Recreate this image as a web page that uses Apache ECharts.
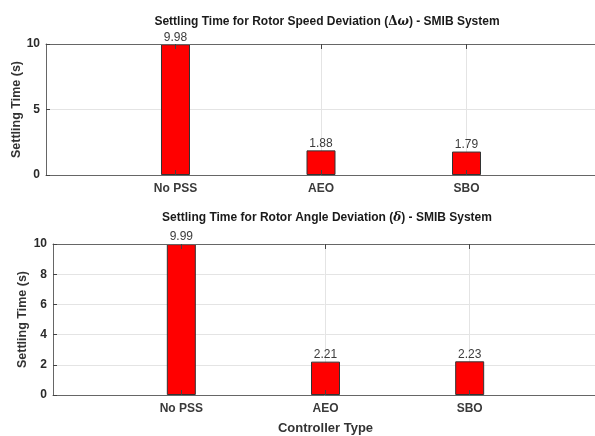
<!DOCTYPE html>
<html>
<head>
<meta charset="utf-8">
<title>Settling Time - SMIB System</title>
<script src="https://cdn.jsdelivr.net/npm/echarts@6/dist/echarts.min.js"></script>
<style>
  html, body { margin: 0; padding: 0; background: #ffffff; }
  #chart { width: 595px; height: 436px; }
</style>
</head>
<body>
<div id="chart"></div>
<script>
// Controller types and their positions on the x scale
const categories = ['No PSS', 'AEO', 'SBO'];
const categoryPos = [1, 2, 3];

// Settling times (s)
const speedSettling = [9.98, 1.88, 1.79];   // rotor speed deviation
const angleSettling = [9.99, 2.21, 2.23];   // rotor angle deviation

// Y tick spacing for each panel
const speedTickStep = 5;
const angleTickStep = 2;

const FONT = "'Liberation Sans', Arial, Helvetica, sans-serif";
const AXIS_COLOR = '#666666';
const TICK_COLOR = '#444444';
const GRID_COLOR = '#e4e4e4';
const X_MIN = 0.11, X_MAX = 3.89;

function toPoints(values) {
  return values.map((v, i) => [categoryPos[i], v]);
}

// Bottom x axis: frame line, inward ticks and category labels, drawn above the bars
function bottomXAxis(gridIndex, extra) {
  return Object.assign({
    gridIndex: gridIndex,
    type: 'value',
    position: 'bottom',
    min: X_MIN,
    max: X_MAX,
    z: 5,
    axisLine: { show: true, onZero: false, lineStyle: { color: AXIS_COLOR, width: 1 } },
    axisTick: { show: true, inside: true, length: 5, customValues: categoryPos,
                lineStyle: { color: TICK_COLOR, width: 1 } },
    axisLabel: { show: true, customValues: categoryPos, margin: 8,
                 formatter: v => categories[Math.round(v) - 1] || '',
                 fontFamily: FONT, fontWeight: 'bold', fontSize: 12, color: '#3a3a3a' },
    splitLine: { show: false }
  }, extra || {});
}

// Top frame edge with inward ticks
function topXAxis(gridIndex) {
  return {
    gridIndex: gridIndex,
    type: 'value',
    position: 'top',
    min: X_MIN,
    max: X_MAX,
    z: 5,
    axisLine: { show: true, onZero: false, lineStyle: { color: AXIS_COLOR, width: 1 } },
    axisTick: { show: true, inside: true, length: 5, customValues: categoryPos,
                lineStyle: { color: TICK_COLOR, width: 1 } },
    axisLabel: { show: false },
    splitLine: { show: false }
  };
}

// Main y axis: labels, name and horizontal grid lines (behind the bars)
function yAxisMain(gridIndex, step, nameGap) {
  return {
    gridIndex: gridIndex,
    type: 'value',
    position: 'left',
    min: 0,
    max: 10,
    interval: step,
    z: 0,
    name: 'Settling Time (s)',
    nameLocation: 'middle',
    nameGap: nameGap,
    nameMoveOverlap: false,
    nameTextStyle: { fontFamily: FONT, fontWeight: 'bold', fontSize: 12.5, color: '#333' },
    axisLine: { show: false },
    axisTick: { show: false },
    axisLabel: { margin: 6, fontFamily: FONT, fontWeight: 'bold', fontSize: 12, color: '#2a2a2a' },
    splitLine: { show: true, lineStyle: { color: GRID_COLOR, width: 1 } }
  };
}

// Overlay y axis: left frame line and inward ticks, drawn above everything
function yAxisFrame(gridIndex, step) {
  return {
    gridIndex: gridIndex,
    type: 'value',
    position: 'left',
    offset: 0,
    min: 0,
    max: 10,
    interval: step,
    z: 5,
    axisLine: { show: true, onZero: false, lineStyle: { color: AXIS_COLOR, width: 1 } },
    axisTick: { show: true, inside: true, length: 4, lineStyle: { color: TICK_COLOR } },
    axisLabel: { show: false },
    splitLine: { show: false }
  };
}

function barSeries(axisIndex, values) {
  return {
    type: 'bar',
    xAxisIndex: axisIndex,
    yAxisIndex: axisIndex,
    data: toPoints(values),
    barWidth: 29,
    z: 2,
    itemStyle: { color: '#ff0000', borderColor: '#333333', borderWidth: 1 },
    label: {
      show: true,
      position: 'top',
      distance: 1,
      fontFamily: FONT,
      fontSize: 12,
      color: '#3c3c3c',
      formatter: p => p.value[1].toFixed(2)
    }
  };
}

// Vertical grid lines at each controller position, kept behind the bars
function vGridSeries(axisIndex) {
  return {
    type: 'scatter',
    xAxisIndex: axisIndex,
    yAxisIndex: axisIndex,
    data: categoryPos.map(x => [x, 0]),
    symbolSize: 0,
    silent: true,
    z: 1,
    markLine: {
      z: 1,
      silent: true,
      symbol: 'none',
      label: { show: false },
      lineStyle: { color: GRID_COLOR, type: 'solid', width: 1 },
      data: categoryPos.map(x => ({ xAxis: x }))
    }
  };
}

const titleRich = {
  b: { fontFamily: FONT, fontWeight: 'bold', fontSize: 12, color: '#1a1a1a' },
  g: { fontFamily: "'DejaVu Serif', 'Liberation Serif', serif", fontSize: 12, color: '#1a1a1a' },
  gi: { fontFamily: "'DejaVu Serif', 'Liberation Serif', serif", fontStyle: 'italic', fontSize: 12, color: '#1a1a1a' }
};

const chart = echarts.init(document.getElementById('chart'), null, { renderer: 'canvas' });
chart.setOption({
  backgroundColor: '#ffffff',
  animation: false,
  title: [
    {
      text: '{b|Settling Time for Rotor Speed Deviation (}{g|Δ}{gi|ω}{b|) - SMIB System}',
      left: 322, top: 11, textAlign: 'center',
      textStyle: { rich: titleRich }
    },
    {
      text: '{b|Settling Time for Rotor Angle Deviation (}{gi|δ}{b|) - SMIB System}',
      left: 322, top: 207, textAlign: 'center',
      textStyle: { rich: titleRich }
    }
  ],
  grid: [
    { left: 46, top: 44, width: 550, height: 131, containLabel: false, outerBoundsMode: 'none' },
    { left: 53, top: 244, width: 545, height: 151, containLabel: false, outerBoundsMode: 'none' }
  ],
  xAxis: [
    bottomXAxis(0),
    bottomXAxis(1, {
      name: 'Controller Type',
      nameLocation: 'middle',
      nameGap: 27,
      nameMoveOverlap: false,
      nameTextStyle: { fontFamily: FONT, fontWeight: 'bold', fontSize: 13, color: '#333' }
    }),
    topXAxis(0),
    topXAxis(1)
  ],
  yAxis: [
    yAxisMain(0, speedTickStep, 23),
    yAxisMain(1, angleTickStep, 24),
    yAxisFrame(0, speedTickStep),
    yAxisFrame(1, angleTickStep)
  ],
  series: [
    vGridSeries(0),
    vGridSeries(1),
    barSeries(0, speedSettling),
    barSeries(1, angleSettling),
    // frame axes of each panel
    { type: 'scatter', xAxisIndex: 2, yAxisIndex: 2, data: [], silent: true },
    { type: 'scatter', xAxisIndex: 3, yAxisIndex: 3, data: [], silent: true }
  ]
});
</script>
</body>
</html>
